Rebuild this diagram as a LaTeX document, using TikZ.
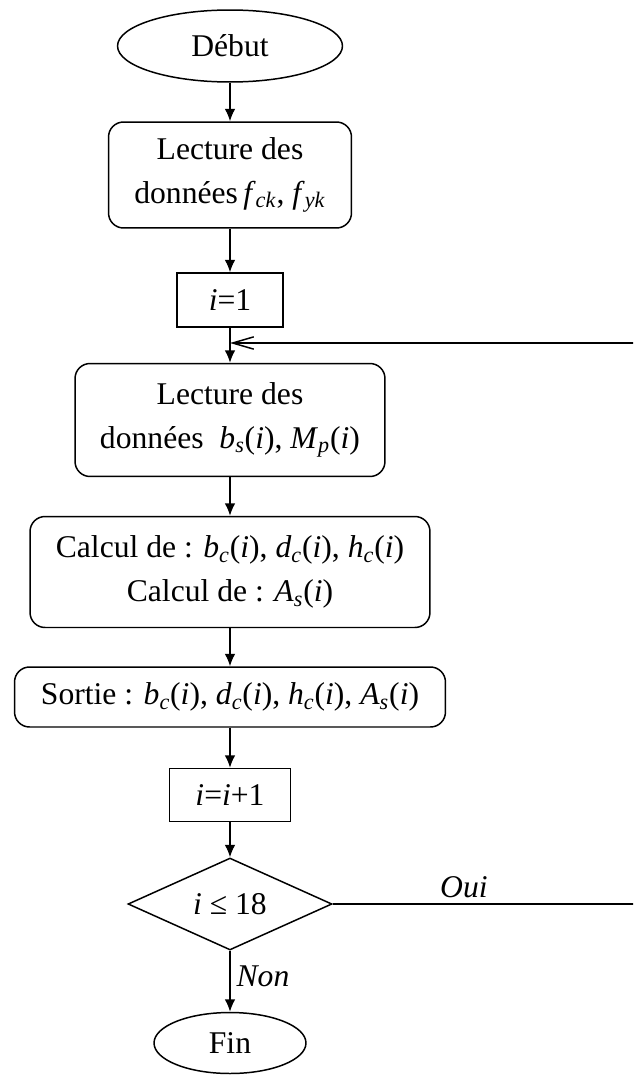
\documentclass[tikz,border=0pt]{standalone}
\usepackage{fontspec}
\setmainfont{Liberation Serif}
\usetikzlibrary{arrows.meta,shapes.geometric,positioning}
\newcommand{\vr}[2]{\textit{#1}\textsubscript{\textit{#2}}}

\begin{document}
\begin{tikzpicture}[x=0.02cm,y=-0.02cm,line width=0.85pt,
    font=\fontsize{18}{25}\selectfont,
    termstyle/.style={ellipse,draw,inner sep=0pt},
    boxstyle/.style={rectangle,draw,rounded corners=0.3cm,align=center,inner sep=0pt},
    initstyle/.style={rectangle,draw,inner sep=0pt},
    teststyle/.style={diamond,draw,aspect=2.2,inner sep=0pt,minimum width=4.08cm,minimum height=1.84cm},
    flow/.style={-{Latex[length=7pt,width=6pt]}}]
    \useasboundingbox (0,0) rectangle (633,1075);
    \clip (0,0) rectangle (633,1075);
    \node[termstyle,minimum width=4.5cm,minimum height=1.44cm] (debut) at (230,46) {Début};
    \node[boxstyle,minimum width=4.86cm,minimum height=2.12cm] (lect1) at (230,175)
        {Lecture des\\données\,\vr{f}{ck}, \vr{f}{yk}};
    \node[initstyle,minimum width=2.12cm,minimum height=1.08cm] (init) at (230,300) {\textit{i}=1};
    \node[boxstyle,minimum width=6.2cm,minimum height=2.26cm] (lect2) at (230,420)
        {Lecture des\\données~ \vr{b}{s}(\textit{i}), \vr{M}{p}(\textit{i})};
    \node[boxstyle,minimum width=8cm,minimum height=2.22cm] (calc) at (230,572)
        {Calcul de : \vr{b}{c}(\textit{i}), \vr{d}{c}(\textit{i}), \vr{h}{c}(\textit{i})\\Calcul de : \vr{A}{s}(\textit{i})};
    \node[boxstyle,minimum width=8.62cm,minimum height=1.2cm] (sortie) at (230,697)
        {Sortie : \vr{b}{c}(\textit{i}), \vr{d}{c}(\textit{i}), \vr{h}{c}(\textit{i}), \vr{A}{s}(\textit{i})};
    \node[initstyle,minimum width=2.42cm,minimum height=1.06cm] (incr) at (230,795) {\textit{i}=\textit{i}+1};
    \node[teststyle] (test) at (230,904) {\textit{i} ≤ 18};
    \node[termstyle,minimum width=3.04cm,minimum height=1.22cm] (fin) at (230,1043) {Fin};
    \coordinate (loop) at (init.south |- 0,343);
    \coordinate (right) at (645,904);
    % main chain
    \foreach \a/\b in {debut/lect1,lect1/init,init/lect2,lect2/calc,calc/sortie,sortie/incr,incr/test}
        \draw[flow] (\a) -- (\b);
    \draw[flow] (test) -- node[right,pos=0.42,font=\fontsize{18}{25}\selectfont\itshape] {Non} (fin);
    % return loop
    \draw[-{Straight Barb[length=12pt,width=7pt]}] (test.east) -- node[above,pos=0.42,font=\fontsize{18}{25}\selectfont\itshape] {Oui} (right) |- (loop);
\end{tikzpicture}
\end{document}
